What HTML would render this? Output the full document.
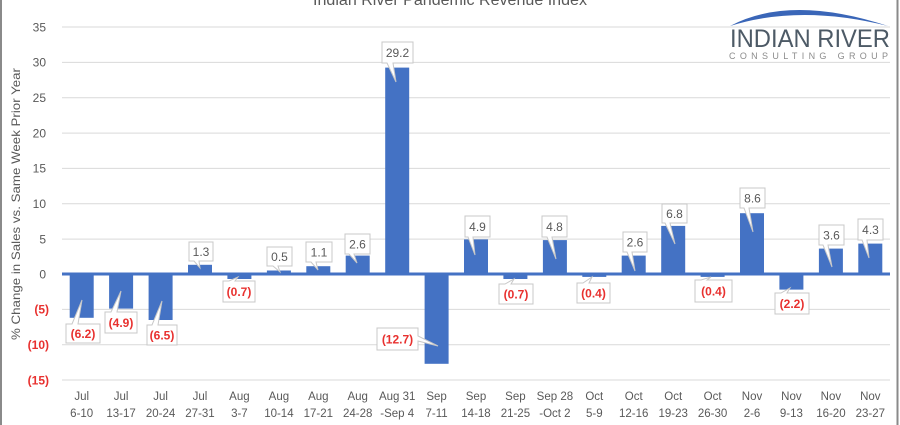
<!DOCTYPE html>
<html><head><meta charset="utf-8"><style>
html,body{margin:0;padding:0;background:#fff;}
svg{display:block;font-family:"Liberation Sans",Arial,sans-serif;}
</style></head><body>
<svg width="900" height="425" viewBox="0 0 900 425" xmlns="http://www.w3.org/2000/svg">
<rect width="900" height="425" fill="#fff"/>
<!-- borders -->
<line x1="1" y1="0" x2="1" y2="425" stroke="#8a8a8a" stroke-width="2"/>
<line x1="897.5" y1="0" x2="897.5" y2="425" stroke="#8a8a8a" stroke-width="2"/>
<!-- title -->
<text x="450" y="5" text-anchor="middle" font-size="16" fill="#595959" textLength="274" lengthAdjust="spacingAndGlyphs">Indian River Pandemic Revenue Index</text>
<!-- logo -->
<path d="M730,26 Q790,-6 888,26 Q800,4 730,26 Z" fill="#3a66b8"/>
<text x="730" y="47" font-size="25" fill="#4d5a66" textLength="160" lengthAdjust="spacingAndGlyphs">INDIAN RIVER</text>
<text x="729" y="59" font-size="9" fill="#8c8c8c" textLength="159" lengthAdjust="spacing">CONSULTING GROUP</text>
<!-- gridlines -->
<g stroke="#d9d9d9" stroke-width="1">
<line x1="62" x2="890" y1="27" y2="27"/>
<line x1="62" x2="890" y1="62.4" y2="62.4"/>
<line x1="62" x2="890" y1="97.7" y2="97.7"/>
<line x1="62" x2="890" y1="133.1" y2="133.1"/>
<line x1="62" x2="890" y1="168.4" y2="168.4"/>
<line x1="62" x2="890" y1="203.7" y2="203.7"/>
<line x1="62" x2="890" y1="239.1" y2="239.1"/>
<line x1="62" x2="890" y1="309.4" y2="309.4"/>
<line x1="62" x2="890" y1="344.7" y2="344.7"/>
<line x1="62" x2="890" y1="380" y2="380"/>
</g>
<!-- y labels -->
<g font-size="12" fill="#595959" text-anchor="end">
<text x="46" y="31.3">35</text>
<text x="46" y="66.7">30</text>
<text x="46" y="102">25</text>
<text x="46" y="137.4">20</text>
<text x="46" y="172.7">15</text>
<text x="46" y="208">10</text>
<text x="46" y="243.4">5</text>
<text x="46" y="278.3">0</text>
</g>
<g font-size="12" fill="#e8312f" font-weight="bold" text-anchor="end">
<text x="49" y="313.7">(5)</text>
<text x="49" y="349">(10)</text>
<text x="49" y="384.3">(15)</text>
</g>
<!-- y title -->
<text transform="translate(20,204) rotate(-90)" text-anchor="middle" font-size="12" fill="#595959" textLength="272" lengthAdjust="spacingAndGlyphs">% Change in Sales vs. Same Week Prior Year</text>
<!-- bars -->
<g fill="#4472c4">
<rect x="69.7" y="274" width="24" height="43.8"/>
<rect x="109.1" y="274" width="24" height="34.6"/>
<rect x="148.6" y="274" width="24" height="46"/>
<rect x="188" y="264.8" width="24" height="9.2"/>
<rect x="227.4" y="274" width="24" height="5"/>
<rect x="266.9" y="270.5" width="24" height="3.5"/>
<rect x="306.3" y="266.2" width="24" height="7.8"/>
<rect x="345.7" y="255.6" width="24" height="18.4"/>
<rect x="385.2" y="67.6" width="24" height="206.4"/>
<rect x="424.6" y="274" width="24" height="89.8"/>
<rect x="464" y="239.4" width="24" height="34.6"/>
<rect x="503.4" y="274" width="24" height="5"/>
<rect x="542.9" y="240.1" width="24" height="33.9"/>
<rect x="582.3" y="274" width="24" height="2.9"/>
<rect x="621.7" y="255.6" width="24" height="18.4"/>
<rect x="661.2" y="225.9" width="24" height="48.1"/>
<rect x="700.6" y="274" width="24" height="2.9"/>
<rect x="740" y="213.2" width="24" height="60.8"/>
<rect x="779.4" y="274" width="24" height="15.6"/>
<rect x="818.9" y="248.6" width="24" height="25.4"/>
<rect x="858.3" y="243.6" width="24" height="30.4"/>
</g>
<!-- zero line -->
<line x1="62" x2="890" y1="274" y2="274" stroke="#4472c4" stroke-width="3"/>
<!-- callouts -->
<g fill="#fff" stroke="#c8c8c8" stroke-width="1">
<path d="M189,242 H213 V261 H199 L200,268 L194,261 H189 Z"/>
<path d="M267,247 H292 V266 H278 L280,272 L273,266 H267 Z"/>
<path d="M306,242 H332 V262 H316 L318,270 L311,262 H306 Z"/>
<path d="M345,234 H370 V254 H354 L357,263 L349,254 H345 Z"/>
<path d="M382,42 H413 V63 H393 L396,82 L387,63 H382 Z"/>
<path d="M465,216 H490 V237 H473 L475,255 L468,237 H465 Z"/>
<path d="M542,216 H567 V237 H552 L556,259 L547,237 H542 Z"/>
<path d="M623,232 H647 V252 H632 L635,271 L627,252 H623 Z"/>
<path d="M662,204 H687 V223 H670 L675,244 L665,223 H662 Z"/>
<path d="M740,188 H765 V208 H749 L753,232 L744,208 H740 Z"/>
<path d="M819,225 H844 V245 H828 L832,267 L823,245 H819 Z"/>
<path d="M858,219 H883 V240 H867 L869,258 L862,240 H858 Z"/>
<path d="M66,324 H72 L82,300 L78,324 H100 V343 H66 Z"/>
<path d="M105,312 H111 L121,291 L117,312 H137 V333 H105 Z"/>
<path d="M147,325 H152 L162,301 L158,325 H177 V345 H147 Z"/>
<path d="M223,281 H229 L238,277 L235,281 H255 V302 H223 Z"/>
<path d="M377,328 H418 V336 L438,346 L418,341 V350 H377 Z"/>
<path d="M499,284 H505 L514,279 L511,284 H533 V304 H499 Z"/>
<path d="M577,283 H583 L592,277 L589,283 H610 V303 H577 Z"/>
<path d="M695,280 H701 L711,277 L707,280 H732 V302 H695 Z"/>
<path d="M775,293 H781 L790,288 L787,293 H809 V314 H775 Z"/>
</g>
<!-- value labels -->
<g font-size="12" fill="#595959" text-anchor="middle">
<text x="201" y="256">1.3</text>
<text x="279.5" y="261">0.5</text>
<text x="319" y="256.5">1.1</text>
<text x="357.5" y="248.5">2.6</text>
<text x="397.5" y="56.8">29.2</text>
<text x="477.5" y="230.8">4.9</text>
<text x="554.5" y="230.8">4.8</text>
<text x="635" y="246.3">2.6</text>
<text x="674.5" y="217.8">6.8</text>
<text x="752.5" y="202.3">8.6</text>
<text x="831.5" y="239.3">3.6</text>
<text x="870.5" y="233.8">4.3</text>
</g>
<g font-size="12" fill="#e8312f" font-weight="bold" text-anchor="middle">
<text x="83" y="337.8">(6.2)</text>
<text x="121" y="326.8">(4.9)</text>
<text x="162" y="339.3">(6.5)</text>
<text x="239" y="295.8">(0.7)</text>
<text x="397.5" y="343.3">(12.7)</text>
<text x="516" y="298.3">(0.7)</text>
<text x="593.5" y="297.3">(0.4)</text>
<text x="713.5" y="295.3">(0.4)</text>
<text x="792" y="307.8">(2.2)</text>
</g>
<!-- x labels -->
<g font-size="11.5" fill="#595959" text-anchor="middle">
<text x="81.7" y="400">Jul</text><text x="81.7" y="417">6-10</text>
<text x="121.1" y="400">Jul</text><text x="121.1" y="417">13-17</text>
<text x="160.6" y="400">Jul</text><text x="160.6" y="417">20-24</text>
<text x="200" y="400">Jul</text><text x="200" y="417">27-31</text>
<text x="239.4" y="400">Aug</text><text x="239.4" y="417">3-7</text>
<text x="278.9" y="400">Aug</text><text x="278.9" y="417">10-14</text>
<text x="318.3" y="400">Aug</text><text x="318.3" y="417">17-21</text>
<text x="357.7" y="400">Aug</text><text x="357.7" y="417">24-28</text>
<text x="397.2" y="400">Aug 31</text><text x="397.2" y="417">-Sep 4</text>
<text x="436.6" y="400">Sep</text><text x="436.6" y="417">7-11</text>
<text x="476" y="400">Sep</text><text x="476" y="417">14-18</text>
<text x="515.4" y="400">Sep</text><text x="515.4" y="417">21-25</text>
<text x="554.9" y="400">Sep 28</text><text x="554.9" y="417">-Oct 2</text>
<text x="594.3" y="400">Oct</text><text x="594.3" y="417">5-9</text>
<text x="633.7" y="400">Oct</text><text x="633.7" y="417">12-16</text>
<text x="673.2" y="400">Oct</text><text x="673.2" y="417">19-23</text>
<text x="712.6" y="400">Oct</text><text x="712.6" y="417">26-30</text>
<text x="752" y="400">Nov</text><text x="752" y="417">2-6</text>
<text x="791.4" y="400">Nov</text><text x="791.4" y="417">9-13</text>
<text x="830.9" y="400">Nov</text><text x="830.9" y="417">16-20</text>
<text x="870.3" y="400">Nov</text><text x="870.3" y="417">23-27</text>
</g>
</svg>
</body></html>
